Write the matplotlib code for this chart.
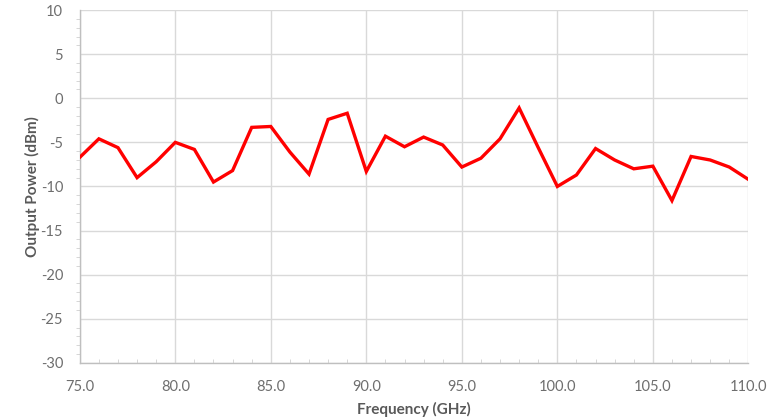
import matplotlib
matplotlib.use("Agg")
import matplotlib.pyplot as plt
from matplotlib.ticker import MultipleLocator, FormatStrFormatter

freq_ghz = list(range(75, 111))
power_dbm = [-6.7, -4.6, -5.6, -9.0, -7.2, -5.0, -5.8, -9.5, -8.2, -3.3,
             -3.2, -6.1, -8.6, -2.4, -1.7, -8.3, -4.3, -5.5, -4.4, -5.3,
             -7.8, -6.8, -4.6, -1.1, -5.6, -10.0, -8.7, -5.7, -7.0, -8.0,
             -7.7, -11.6, -6.6, -7.0, -7.8, -9.2]

x_ticks = [75, 80, 85, 90, 95, 100, 105, 110]
y_ticks = [10, 5, 0, -5, -10, -15, -20, -25, -30]

plt.rcParams['font.family'] = ['Lato', 'DejaVu Sans']

fig = plt.figure(figsize=(7.82, 4.19), dpi=100)
ax = fig.add_axes([0.102, 0.134, 0.855, 0.842])

grid_c = '#d9d9d9'
ax.plot(freq_ghz, power_dbm, color='#ff0000', lw=2.4, solid_joinstyle='miter', zorder=3)

ax.set_xlim(75, 110)
ax.set_ylim(-30, 10)
ax.set_xticks(x_ticks)
ax.set_yticks(y_ticks)
ax.xaxis.set_major_formatter(FormatStrFormatter('%.1f'))
ax.yaxis.set_major_formatter(FormatStrFormatter('%d'))
ax.xaxis.set_minor_locator(MultipleLocator(1))
ax.yaxis.set_minor_locator(MultipleLocator(1))
ax.grid(True, which='major', color=grid_c, lw=1.0)
ax.set_axisbelow(True)

for s in ['top', 'right']:
    ax.spines[s].set_visible(False)
for s in ['left', 'bottom']:
    ax.spines[s].set_color('#bfbfbf')
    ax.spines[s].set_linewidth(1.0)

ax.tick_params(which='major', length=0, colors='#6e6e6e', labelsize=10.5)
ax.tick_params(axis='x', which='major', pad=12)
ax.tick_params(axis='y', which='major', pad=12)
ax.tick_params(which='minor', length=3, color='#d0d0d0', direction='out')
ax.tick_params(axis='x', which='minor', direction='in')

ax.set_xlabel('Frequency (GHz)', fontsize=11, fontweight='bold', color='#595959', labelpad=6)
ax.set_ylabel('Output Power (dBm)', fontsize=11, fontweight='bold', color='#595959')
ax.yaxis.set_label_coords(-0.06, 0.5)

fig.savefig('out.png', dpi=100)
